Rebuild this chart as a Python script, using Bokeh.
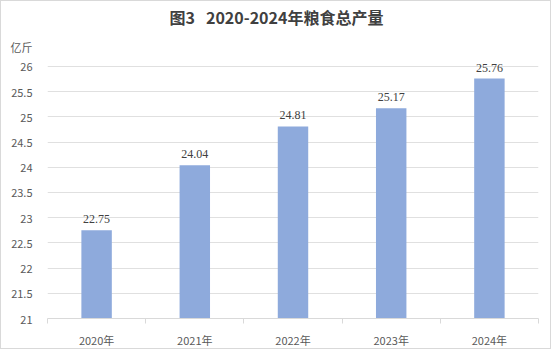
from bokeh.plotting import figure
from bokeh.models import FixedTicker, Label, LabelSet, ColumnDataSource, Range1d
from bokeh.embed import file_html
from bokeh.resources import INLINE

years = ["2020年", "2021年", "2022年", "2023年", "2024年"]
output = [22.75, 24.04, 24.81, 25.17, 25.76]
y_ticks = [21, 21.5, 22, 22.5, 23, 23.5, 24, 24.5, 25, 25.5, 26]
title_text = "图3\u00a0\u00a0\u00a02020-2024年粮食总产量"
unit_text = "亿斤"

xs = [i + 0.5 for i in range(len(years))]
src = ColumnDataSource(dict(x=xs, top=output, lbl=[f"{v:.2f}" for v in output]))

FONT = "Noto Sans CJK SC"
PX_PER_UNIT = 51.2          # vertical scale: 0.5 units = 25.6 px
FRAME_H = 322
unit_pos = 21 + (FRAME_H - 46) / PX_PER_UNIT   # where the unit caption sits

p = figure(width=551, height=349, output_backend="svg", toolbar_location=None,
           x_range=Range1d(0, len(years)),
           y_range=Range1d(21, 21 + FRAME_H / PX_PER_UNIT),
           min_border_left=46, min_border_right=14, min_border_top=0, min_border_bottom=27)
p.outline_line_color = None
p.background_fill_color = "white"
p.border_fill_color = "white"
p.styles = {"border": "1px solid #d9d9d9"}

p.vbar(x="x", top="top", bottom=21, width=0.31, source=src, color="#8eaadc", line_color=None)
p.add_layout(LabelSet(x="x", y="top", text="lbl", source=src, text_align="center",
                      text_baseline="bottom", y_offset=7, text_font=FONT,
                      text_font_size="12px", text_color="#404040"))

p.xgrid.grid_line_color = None
p.ygrid.grid_line_color = "#e0e0e0"
p.ygrid.ticker = FixedTicker(ticks=y_ticks)

p.yaxis.ticker = FixedTicker(ticks=y_ticks + [unit_pos])
p.yaxis.major_label_overrides = {unit_pos: unit_text}
p.yaxis.axis_line_color = None
p.yaxis.major_tick_line_color = None
p.yaxis.minor_tick_line_color = None
p.yaxis.major_label_standoff = 9
p.yaxis.major_label_text_font = FONT
p.yaxis.major_label_text_font_size = "11px"
p.yaxis.major_label_text_color = "#595959"

p.xaxis.ticker = FixedTicker(ticks=xs, minor_ticks=list(range(len(years) + 1)))
p.xaxis.major_label_overrides = {x: y for x, y in zip(xs, years)}
p.xaxis.axis_line_color = "#d9d9d9"
p.xaxis.major_tick_line_color = None
p.xaxis.minor_tick_line_color = "#d9d9d9"
p.xaxis.minor_tick_out = 5
p.xaxis.minor_tick_in = 0
p.xaxis.major_tick_out = 0
p.xaxis.major_tick_in = 0
p.xaxis.major_label_standoff = 8
p.xaxis.major_label_text_font = FONT
p.xaxis.major_label_text_font_size = "11px"
p.xaxis.major_label_text_color = "#595959"

# screen units are relative to the plot frame's bottom-left corner
p.add_layout(Label(x=229, y=FRAME_H - 20, x_units="screen", y_units="screen", text=title_text,
                   text_align="center", text_baseline="middle", text_font=FONT,
                   text_font_size="16px", text_font_style="bold", text_color="#404040"))

open("out.html", "w").write(file_html(p, INLINE))
